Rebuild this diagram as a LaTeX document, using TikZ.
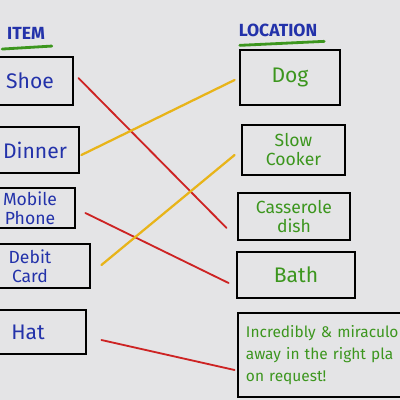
\documentclass[tikz,border=0pt]{standalone}
\usepackage{fontspec}
\setmainfont{Fira Sans}
\usetikzlibrary{calc}
\definecolor{board}{RGB}{228,228,230}
\definecolor{penblue}{RGB}{35,50,170}
\definecolor{pengreen}{RGB}{60,150,30}
\definecolor{penred}{RGB}{205,35,35}
\definecolor{penyellow}{RGB}{232,180,25}
\begin{document}
\begin{tikzpicture}[x=0.025cm, y=-0.025cm, line cap=round,
    itembox/.style={draw=black, line width=2pt, inner sep=0pt, text=penblue, align=center, font=\fontsize{15}{15}\selectfont},
    placebox/.style={draw=black, line width=2pt, inner sep=0pt, text=pengreen, align=center, font=\fontsize{15}{15}\selectfont},
    twolines/.style={font=\fontsize{12.5}{13.5}\selectfont},
    heading/.style={text=penblue, font=\bfseries\fontsize{12.5}{12.5}\selectfont},
    redline/.style={penred, line width=1.3pt},
    yellowline/.style={penyellow, line width=1.6pt}]
    % pizarra
    \fill[board] (0,0) rectangle (400,400);
    \useasboundingbox (0,0) rectangle (400,400);

    % titulos
    \node[heading] (item) at (26,33) {ITEM};
    \node[heading] (loc) at (278,30) {LOCATION};
    \draw[pengreen, line width=2pt] ($(item.south west)+(0,5)$) -- ($(item.south east)+(2,2)$);
    \draw[pengreen, line width=2pt] ($(loc.south west)+(6,4)$) -- ($(loc.south east)+(2,0)$);

    % cajas de la izquierda
    \node[itembox, minimum width=2.15cm, minimum height=1.2cm] (shoe) at (30,81) {Shoe};
    \node[itembox, minimum width=2.2cm, minimum height=1.15cm] (dinner) at (35,150) {Dinner};
    \node[itembox, twolines, minimum width=2.25cm, minimum height=1cm] (mobile) at (30,208) {Mobile\\Phone};
    \node[itembox, twolines, minimum width=3cm, minimum height=1.1cm] (debit) at (30,266) {Debit\\Card};
    \node[itembox, minimum width=2.9cm, minimum height=1.1cm] (hat) at (28,332) {Hat};

    % cajas de la derecha
    \node[placebox, minimum width=2.5cm, minimum height=1.375cm] (dog) at (290,77.5) {Dog};
    \node[placebox, twolines, minimum width=2.575cm, minimum height=1.25cm] (slow) at (293.5,150) {Slow\\Cooker};
    \node[placebox, twolines, minimum width=2.8cm, minimum height=1.175cm] (cass) at (294,216.5) {Casserole\\dish};
    \node[placebox, minimum width=2.95cm, minimum height=1.15cm] (bath) at (296,275) {Bath};
    \node[placebox, align=left, text width=4.15cm, minimum width=4.55cm, minimum height=2.1cm,
        font=\fontsize{11}{15.5}\selectfont] (away) at (329,355)
        {Incredibly \& miraculo\\away in the right pla\\on request!};

    % lineas
    \draw[redline] ($(shoe.east)+(4,-3)$) -- ($(cass.west)+(-10,11.5)$);
    \draw[yellowline] ($(dinner.east)+(1,5)$) -- ($(dog.west)+(-4,2.5)$);
    \draw[redline] ($(mobile.east)+(9,5)$) -- ($(bath.west)+(-7,8)$);
    \draw[yellowline] ($(debit.east)+(10,-1)$) -- ($(slow.west)+(-6,5)$);
    \draw[redline] ($(hat.east)+(14,8)$) -- ($(away.west)+(-2,15)$);
\end{tikzpicture}
\end{document}
